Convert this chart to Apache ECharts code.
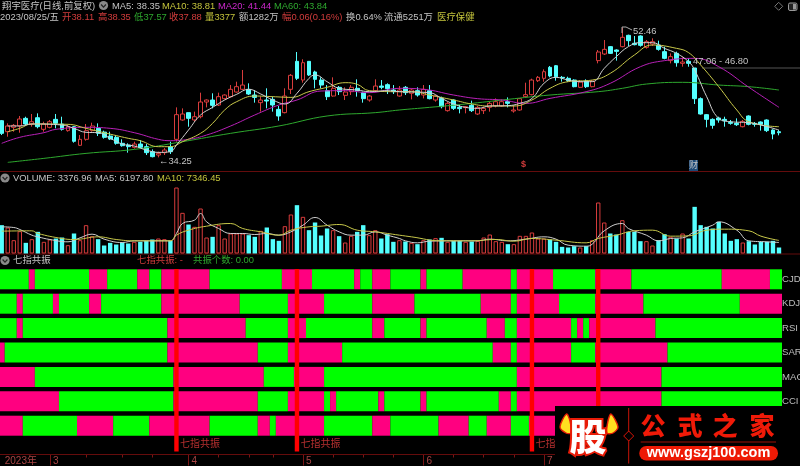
<!DOCTYPE html>
<html><head><meta charset="utf-8">
<style>html,body{margin:0;padding:0;background:#000;overflow:hidden}#c{width:800px;height:466px}</style>
<script src="https://cdn.jsdelivr.net/npm/echarts@6/dist/echarts.min.js"></script>
</head><body><div id="c"></div>
<script>
// open, close, low, high
const candles=[
[39.39,37.62,37.38,39.49],[37.85,38.65,37.15,39.02],[38.46,38.74,37.85,38.93],[38.65,39.63,37.71,40.05],[39.72,38.93,38.65,39.95],
[38.93,39.25,38.55,40.33],[39.81,38.55,38.32,40.42],[38.18,38.93,37.85,39.25],[38.46,39.25,38.32,39.49],[39.58,39.02,38.32,40.33],
[38.93,38.18,38.00,39.95],[38.00,38.55,37.85,38.79],[38.55,36.50,36.31,38.65],[35.94,36.78,35.84,37.38],[36.78,38.00,36.59,38.93],
[38.00,38.65,37.85,39.11],[38.32,37.62,37.24,39.02],[37.80,37.06,36.87,38.00],[37.24,36.82,36.68,37.85],[37.06,36.22,36.03,37.38],
[36.22,35.89,35.75,36.78],[35.98,35.75,34.91,36.22],[35.66,36.12,35.47,36.45],[36.12,35.66,35.51,36.68],[35.75,34.91,34.58,36.12],
[35.05,34.35,34.25,35.37],[34.58,34.81,34.25,35.05],[34.91,35.28,34.58,35.56],[35.75,35.05,34.72,36.45],[36.78,40.24,36.45,41.26],
[39.49,40.33,39.39,41.12],[40.52,39.72,38.55,40.52],[39.49,39.95,39.25,40.66],[39.95,42.01,39.72,43.32],[42.01,42.29,41.26,42.38],
[42.29,41.54,41.12,43.23],[41.59,42.76,41.45,43.32],[42.48,42.99,42.38,43.09],[42.76,43.79,42.66,44.39],[43.41,44.16,43.32,44.86],
[43.79,44.39,43.69,46.50],[43.79,43.13,42.99,44.63],[42.99,42.66,41.92,43.69],[41.92,42.29,40.66,42.76],[42.29,42.15,41.12,43.93],
[42.38,41.59,40.66,42.76],[40.98,40.05,39.39,41.45],[40.52,42.85,40.42,43.93],[43.79,45.75,43.13,45.94],[47.71,45.33,45.09,49.02],
[45.09,47.52,44.72,48.00],[47.71,45.80,45.66,47.71],[46.22,45.19,43.93,46.40],[45.09,44.39,43.93,45.47],[43.60,42.76,42.29,44.39],
[42.85,43.93,42.76,45.47],[44.07,43.46,42.99,44.25],[42.94,43.41,42.29,44.07],[43.46,44.07,42.99,44.39],[43.93,43.60,42.76,45.19],
[43.32,42.48,41.92,43.46],[42.29,42.85,42.06,42.99],[43.60,44.25,43.46,45.19],[44.25,44.07,43.79,45.09],[44.44,43.88,43.13,44.63],
[43.69,43.46,43.13,44.39],[42.85,43.69,42.76,44.25],[44.07,43.32,42.99,44.25],[43.23,43.69,42.38,43.93],[43.60,42.99,42.76,44.07],
[42.99,43.79,42.52,44.39],[43.60,42.48,42.38,44.39],[42.29,42.85,42.06,42.99],[42.52,41.36,41.12,42.76],[40.80,41.82,40.66,42.06],
[42.29,41.12,40.89,42.38],[41.26,41.08,40.42,41.59],[41.22,41.36,40.42,41.45],[41.54,40.80,40.61,42.20],[40.33,41.26,40.19,41.45],
[40.80,41.12,40.33,41.36],[41.26,41.82,40.66,42.06],[41.45,42.06,41.26,42.52],[41.45,42.06,41.36,42.38],[42.06,41.82,41.26,42.66],
[40.75,40.89,40.52,41.54],[40.89,42.48,40.80,42.57],[42.76,43.04,42.66,44.72],[43.04,45.09,42.94,45.28],[45.00,45.47,44.81,45.66],
[45.33,46.26,44.86,46.59],[46.87,45.66,45.47,47.06],[47.10,45.56,45.00,47.20],[45.47,45.38,44.86,45.66],[45.33,45.00,44.81,45.56],
[45.09,44.16,44.07,45.19],[44.07,44.81,43.97,45.09],[44.95,44.16,43.97,45.19],[44.16,44.95,44.07,45.09],[47.81,49.02,47.43,49.30],
[48.74,49.39,48.60,50.70],[49.77,48.83,48.74,49.86],[49.30,49.11,47.81,49.39],[49.77,51.08,49.67,52.46],[51.36,50.61,49.86,51.45],
[50.24,50.05,49.95,51.26],[51.26,49.95,49.77,51.36],[49.67,50.47,49.49,50.70],[50.14,50.47,49.86,50.94],[50.00,49.39,49.21,50.61],
[49.07,48.13,48.00,49.77],[47.81,48.37,47.43,48.83],[48.83,47.52,46.96,49.07],[47.43,47.62,46.96,48.27],[47.71,47.43,46.96,48.13],
[46.78,42.48,41.73,46.78],[42.48,40.33,40.24,42.66],[40.24,39.58,38.46,40.33],[39.58,38.74,38.27,39.72],[39.77,39.49,39.11,39.95],
[39.58,39.39,38.55,39.95],[39.16,39.02,38.83,39.49],[39.02,38.83,38.65,39.72],[38.55,39.30,38.46,39.49],[40.05,38.88,38.74,40.14],
[39.02,38.88,38.55,39.21],[39.21,38.88,38.00,39.30],[39.49,38.00,37.80,39.58],[38.08,37.52,36.78,38.18],[37.85,37.71,37.34,38.08]];
const volumes=[15950,14630,7500,12570,6000,8070,12190,6570,7880,8440,9000,4690,11260,7500,15950,9760,8070,4500,6000,5070,6190,5630,6570,6570,7130,7880,8440,8070,7130,37140,22890,16320,15010,25330,9000,9380,15950,8440,11260,11260,11260,10320,9380,12760,14630,8070,7130,15380,21950,27200,20640,13130,17450,10130,14070,13130,9760,6190,9940,12190,15950,10320,13130,8440,10880,6570,7500,6750,6000,5250,7500,7880,8630,8820,6570,7130,7130,6570,6750,7130,9000,10690,6940,6570,5250,5250,9940,9940,11820,8440,8440,7880,6570,3750,3380,4130,3380,4130,7500,28700,17450,11260,10690,18760,12190,12190,6940,6940,4500,7500,10880,9380,8440,11260,8440,26260,15950,15010,14070,17820,11260,7130,8070,6190,6940,5070,6570,6570,7130,3377];
// [bar index, value] pairs
const ma5=[[1,38.65],[3,38.65],[5,38.93],[10,38.79],[12,38.32],[14,37.76],[16,37.71],[18,36.92],[20,36.12],[22,35.84],[24,35.28],[26,34.95],[28,35.05],[29,35.98],[31,38.08],[33,40.19],[35,41.26],[37,42.29],[39,43.09],[41,43.79],[43,43.13],[45,42.29],[47,41.73],[49,43.23],[51,45.33],[52,45.80],[54,44.86],[56,43.93],[59,43.69],[61,43.46],[64,43.60],[66,43.46],[71,43.32],[73,42.52],[75,41.73],[77,41.26],[79,41.12],[81,41.45],[84,41.50],[86,41.82],[88,42.52],[90,44.63],[92,45.47],[94,45.09],[96,44.86],[98,44.86],[100,46.73],[102,48.37],[104,49.77],[106,50.33],[108,50.33],[110,49.53],[112,48.83],[114,47.66],[115,46.50],[117,42.76],[119,39.72],[121,39.25],[124,39.11],[126,38.79],[129,38.08]];
const ma10=[[1,37.85],[3,38.32],[5,38.93],[11,38.88],[14,38.32],[17,37.71],[21,36.92],[23,36.59],[26,35.75],[28,35.75],[30,36.45],[33,37.62],[35,39.02],[37,40.89],[39,42.06],[42,42.85],[45,42.76],[48,42.66],[51,43.46],[54,44.07],[57,44.72],[59,44.49],[61,43.60],[66,43.46],[68,43.46],[71,42.99],[75,42.29],[78,41.73],[81,41.45],[85,41.45],[88,42.29],[91,43.93],[94,44.86],[98,45.09],[101,46.03],[105,48.60],[108,50.00],[112,49.53],[114,48.93],[116,47.20],[119,44.16],[122,40.89],[124,39.25],[129,38.55]];
const ma20=[[0,36.22],[3,37.06],[7,37.71],[9,38.18],[14,38.46],[18,38.32],[22,37.71],[26,36.78],[28,36.59],[31,36.78],[34,37.38],[38,38.65],[42,40.19],[46,41.59],[49,42.29],[53,43.55],[57,43.60],[61,43.32],[66,43.93],[70,43.79],[75,42.99],[79,42.48],[83,42.29],[87,41.82],[91,42.52],[97,43.46],[101,44.63],[106,46.96],[110,47.81],[115,48.13],[119,46.96],[124,44.07],[129,41.26]];
const ma60=[[1,33.55],[7,34.11],[14,34.81],[22,35.37],[30,36.45],[38,37.62],[46,38.65],[54,40.05],[62,40.52],[66,40.89],[71,41.26],[77,41.73],[84,42.38],[91,42.99],[99,43.46],[103,43.93],[107,44.53],[113,44.77],[119,44.39],[124,44.16],[129,43.69]];
const volMa5=[[0,15010],[2,14630],[3,13510],[5,10320],[6,9380],[8,7880],[11,6570],[13,8820],[15,10880],[17,8070],[20,6190],[22,7130],[24,7130],[26,7130],[28,7130],[29,11260],[30,16880],[32,18760],[33,22510],[34,17820],[36,14070],[38,11260],[40,11260],[42,10690],[44,11260],[46,10320],[48,12190],[50,15950],[52,20260],[54,15950],[56,12190],[58,10320],[60,10320],[62,12190],[64,10320],[66,8440],[67,7130],[69,6000],[71,6940],[75,7130],[79,7130],[81,8070],[84,7130],[87,8070],[90,9380],[92,8070],[94,4690],[97,4130],[98,5250],[100,12760],[103,16880],[104,14070],[107,10320],[109,7130],[111,8440],[113,8820],[115,12190],[118,15950],[119,17820],[122,13130],[124,7130],[127,6570],[129,6197]];
const volMa10=[[0,12570],[5,12760],[6,11260],[10,8440],[12,7880],[16,9380],[19,7880],[22,7130],[28,7130],[29,10320],[31,13130],[34,15380],[38,16880],[40,14070],[43,12190],[46,10320],[48,13130],[51,15010],[53,15380],[56,16320],[59,13130],[62,12190],[66,10320],[68,9380],[73,7130],[78,7130],[82,7880],[85,6940],[88,8440],[92,7500],[97,6000],[99,8440],[102,10320],[105,12760],[108,13130],[111,9760],[114,9940],[117,13130],[120,13700],[124,12760],[126,9760],[129,7346]];
// pink [first bar, end bar) runs of each indicator row; the rest of the row is green
const rowNames=['CJDX','KDJ','RSI','SAR','MACD','CCI',''];
const runsCJDX=[[5,6],[15,18],[23,25],[27,35],[47,52],[59,60],[62,65],[70,71],[77,85],[86,92],[99,105],[120,128]];
const runsKDJ=[[3,4],[9,10],[15,17],[27,40],[48,54],[62,69],[80,85],[86,93],[99,107],[123,130]];
const runsRSI=[[3,4],[28,41],[48,51],[62,64],[70,71],[81,84],[86,95],[96,97],[98,109]];
const runsSAR=[[0,1],[28,43],[48,57],[82,85],[86,95],[99,111]];
const runsMACD=[[0,6],[29,44],[49,54],[86,110]];
const runsCCI=[[0,10],[29,43],[48,54],[55,56],[63,64],[70,71],[83,85],[86,110]];
const runsLast=[[0,4],[13,19],[25,35],[43,45],[46,54],[62,65],[73,78],[81,85],[88,100]];
const resonanceBars=[29,49,88,99];
const monthStarts=[0,8,31,50,70,90,111];
const monthLabels=['2023年','3','4','5','6','7','8'];
const weekTicks=[14,20,25,36,41,45,55,60,65,75,80,85];

const UP='#d83c3c',DOWN='#54ffff',N=candles.length;
const cats=candles.map((_,i)=>{const m=monthStarts.indexOf(i);return m>=0?monthLabels[m]:String(i)});
const FONT='"Liberation Sans","Noto Sans CJK SC",sans-serif';
const allRuns=[runsCJDX,runsKDJ,runsRSI,runsSAR,runsMACD,runsCCI,runsLast];
const bandData=[];
allRuns.forEach((runs,r)=>{let p=0;runs.forEach(([a,b])=>{if(a>p)bandData.push([p,a,r,0]);bandData.push([a,b,r,1]);p=b;});if(p<N)bandData.push([p,N,r,0]);});

function t(x,y,text,fill,size,bold){return {type:'text',silent:true,z:50,style:{x,y,text,fill,font:(bold?'bold ':'')+size+'px '+FONT,verticalAlign:'middle',align:'left'}};}
function badge(x,y){return [{type:'circle',z:50,silent:true,shape:{cx:x,cy:y,r:4.6},style:{fill:'#8a8a8a'}},{type:'polyline',z:51,silent:true,shape:{points:[[x-2.4,y-1],[x,y+1.6],[x+2.4,y-1]]},style:{stroke:'#222',lineWidth:1.2,fill:null}}];}
function sep(y){return {type:'line',z:1,silent:true,shape:{x1:0,y1:y,x2:800,y2:y},style:{stroke:'#640c0c',lineWidth:1}};}
const L1=6,L2=17.5,G='#c4c4c4',R='#d23c3c',Y='#c4c43c',GR='#2ea82e',MG='#cc28cc',FS=9.4;
const graphics=[
sep(171.5),sep(254),sep(454.5),
t(2,L1,'翔宇医疗(日线,前复权)',G,FS),...badge(103.5,5.5),
t(112,L1,'MA5: 38.35',G,FS),t(162,L1,'MA10: 38.81',Y,FS),t(218,L1,'MA20: 41.44',MG,FS),t(274,L1,'MA60: 43.84',GR,FS),
t(0,L2,'2023/08/25/五',G,FS),t(62,L2,'开38.11',R,FS),t(98,L2,'高38.35',R,FS),t(134,L2,'低37.57',GR,FS),t(169,L2,'收37.88',R,FS),t(205,L2,'量3377',Y,FS),t(239,L2,'额1282万',G,FS),t(282,L2,'幅0.06(0.16%)',R,FS),t(346,L2,'换0.64%',G,FS),t(384,L2,'流通5251万',G,FS),t(437,L2,'医疗保健',Y,FS),
{type:'polygon',z:50,silent:true,shape:{points:[[778.7,2.3],[782.7,6.3],[778.7,10.3],[774.7,6.3]]},style:{fill:null,stroke:'#777',lineWidth:1}},
{type:'rect',z:50,silent:true,shape:{x:788.5,y:3,width:8.5,height:7.5,r:1.5},style:{fill:'#222',stroke:'#999',lineWidth:1}},
{type:'rect',z:50,silent:true,shape:{x:793,y:4,width:3,height:5.5},style:{fill:'#999'}},
t(159,161,'←34.25',G,FS),t(633,31,'52.46',G,FS),
{type:'polyline',z:50,silent:true,shape:{points:[[622,33],[622,27],[626,27],[632,30]]},style:{fill:null,stroke:'#aaa',lineWidth:1}},
t(693,61,'47.06 - 46.80',G,FS),
{type:'line',z:3,silent:true,shape:{x1:702,y1:68,x2:800,y2:68},style:{stroke:'#555',lineWidth:1.2}},
t(521,165,'$',R,9,true),
{type:'rect',z:50,silent:true,shape:{x:689,y:160,width:9,height:11},style:{fill:'#1e4a78'}},t(689,165.5,'财',G,9),
...badge(5,178),t(13,178,'VOLUME: 3376.96',G,FS),t(95,178,'MA5: 6197.80',G,FS),t(157,178,'MA10: 7346.45',Y,FS),
...badge(5,260.5),t(13,260.5,'七指共振',G,FS),t(137,260.5,'七指共振: -',R,FS),t(193,260.5,'共振个数: 0.00',GR,FS),
// watermark
{type:'rect',z:100,silent:true,shape:{x:555,y:406,width:245,height:60},style:{fill:'#000'}},
{type:'polygon',z:101,silent:true,shape:{smooth:.3,points:[[570,421],[566.5,414],[560,427],[566,433],[571,433]]},style:{fill:'#ffe020',stroke:'#e82008',lineWidth:1.4}},
{type:'polygon',z:101,silent:true,shape:{smooth:.3,points:[[608,421],[611,414],[618,427],[613,433],[607,433]]},style:{fill:'#ffe020',stroke:'#e82008',lineWidth:1.4}},
{type:'text',z:102,silent:true,style:{x:588,y:437,text:'股',fill:'#fff',font:'900 37px "Noto Sans CJK SC"',align:'center',verticalAlign:'middle',stroke:'#e81c08',lineWidth:4}},
{type:'line',z:101,silent:true,shape:{x1:628.7,y1:408,x2:628.7,y2:463.5},style:{stroke:'#c81408',lineWidth:1}},
{type:'polygon',z:102,silent:true,shape:{points:[[628.7,431],[633.7,436],[628.7,441],[623.7,436]]},style:{fill:'#000',stroke:'#d81408',lineWidth:1}},
...['公','式','之','家'].map((c,i)=>({type:'text',z:102,silent:true,style:{x:[653,690,725,762][i],y:425,text:c,fill:'#f01a08',font:'900 25px "Noto Sans CJK SC"',align:'center',verticalAlign:'middle'}})),
{type:'line',z:101,silent:true,shape:{x1:640.7,y1:442,x2:776,y2:442},style:{stroke:'#6a0b05',lineWidth:1.5}},
{type:'rect',z:101,silent:true,shape:{x:639.3,y:446,width:138.7,height:14.5,r:7},style:{fill:'#ee1a05'}},
{type:'text',z:102,silent:true,style:{x:708.5,y:453.2,text:'www.gszj100.com',fill:'#fff',font:'bold 14.5px "Liberation Sans"',align:'center',verticalAlign:'middle'}}
];

const gridBase={left:-1.3,width:783.3,outerBoundsMode:'none',containLabel:false};
const hiddenX=i=>({type:'category',gridIndex:i,data:cats,show:false,boundaryGap:true});
const line=(name,data,color,xi,extra)=>Object.assign({type:'line',name,data,xAxisIndex:xi,yAxisIndex:xi,showSymbol:false,smooth:.45,silent:true,animation:false,lineStyle:{color,width:1},z:5},extra||{});

const option={
backgroundColor:'#000',animation:false,
grid:[Object.assign({top:0,height:170},gridBase),Object.assign({top:176,height:77.5},gridBase),Object.assign({top:267.1,height:170.8},gridBase),Object.assign({top:269,height:185.5},gridBase)],
xAxis:[hiddenX(0),hiddenX(1),
 {type:'category',gridIndex:2,data:cats,show:false},
 {type:'category',gridIndex:3,data:cats,position:'bottom',axisLine:{show:false},
  axisTick:{show:true,length:11,alignWithLabel:true,interval:i=>i>0&&monthStarts.includes(i),lineStyle:{color:'#7a1414'}},
  axisLabel:{show:true,margin:2,align:'left',padding:[0,0,0,3],color:'#a84444',fontSize:10,fontFamily:FONT,hideOverlap:false,
   interval:i=>monthStarts.includes(i),formatter:v=>monthLabels.includes(v)?v:''}},
 {type:'category',gridIndex:3,data:cats,position:'bottom',axisLine:{show:false},axisLabel:{show:false},
  axisTick:{show:true,length:3,alignWithLabel:true,interval:i=>weekTicks.includes(i),lineStyle:{color:'#7a1414'}}}],
yAxis:[
 {type:'value',gridIndex:0,min:32.48,max:56.31,show:false,scale:true},
 {type:'value',gridIndex:1,min:0,max:43617,show:false},
 {type:'category',gridIndex:2,data:rowNames,inverse:true,position:'right',axisLine:{show:false},axisTick:{show:false},splitLine:{show:false},axisLabel:{margin:0,color:'#bdbdbd',fontSize:9.6,fontFamily:FONT,interval:0}},
 {type:'value',gridIndex:3,min:0,max:1,show:false}],
graphic:{elements:graphics},
series:[
 {type:'candlestick',xAxisIndex:0,yAxisIndex:0,data:candles,barWidth:4.4,silent:true,animation:false,z:3,
  itemStyle:{color:'#000',color0:DOWN,borderColor:UP,borderColor0:DOWN,borderWidth:1}},
 line('MA60',ma60,'#2ea82e',0),line('MA20',ma20,'#b820b8',0),line('MA10',ma10,'#c8c84a',0),line('MA5',ma5,'#d0d0d0',0),
 {type:'bar',xAxisIndex:1,yAxisIndex:1,barWidth:4.4,silent:true,animation:false,z:3,
  data:volumes.map((v,i)=>{const up=candles[i][1]>candles[i][0];return {value:v,itemStyle:up?{color:'#000',borderColor:UP,borderWidth:1}:{color:DOWN}};})},
 line('VMA5',volMa5,'#cfcfcf',1),line('VMA10',volMa10,'#c8c84a',1),
 {type:'custom',xAxisIndex:2,yAxisIndex:2,data:bandData,encode:{x:0,y:2},silent:true,animation:false,clip:false,z:2,
  renderItem(p,api){const s=api.size([1,1]);const c=api.coord([api.value(0),api.value(2)]);const h=20;
   return {type:'rect',shape:{x:c[0]-s[0]/2,y:c[1]-h/2,width:(api.value(1)-api.value(0))*s[0],height:h},style:{fill:api.value(3)?'#ff0080':'#00ff00',stroke:null}};}},
 {type:'custom',xAxisIndex:3,yAxisIndex:3,data:resonanceBars.map(i=>[i,1]),encode:{x:0,y:1},silent:true,animation:false,clip:false,z:4,
  renderItem(p,api){const c=api.coord([api.value(0),1]),b=api.coord([api.value(0),.016]);
   return {type:'group',children:[
    {type:'rect',shape:{x:c[0]-2.2,y:c[1],width:4.4,height:b[1]-c[1]},style:{fill:'#ff0000'}},
    {type:'text',style:{x:c[0]+3.5,y:b[1]-8,text:'七指共振',fill:'#b83030',font:'10px "Noto Sans CJK SC"',verticalAlign:'middle'}}]};}}
]};
echarts.init(document.getElementById('c'),null,{renderer:'canvas',width:800,height:466}).setOption(option);
</script></body></html>
